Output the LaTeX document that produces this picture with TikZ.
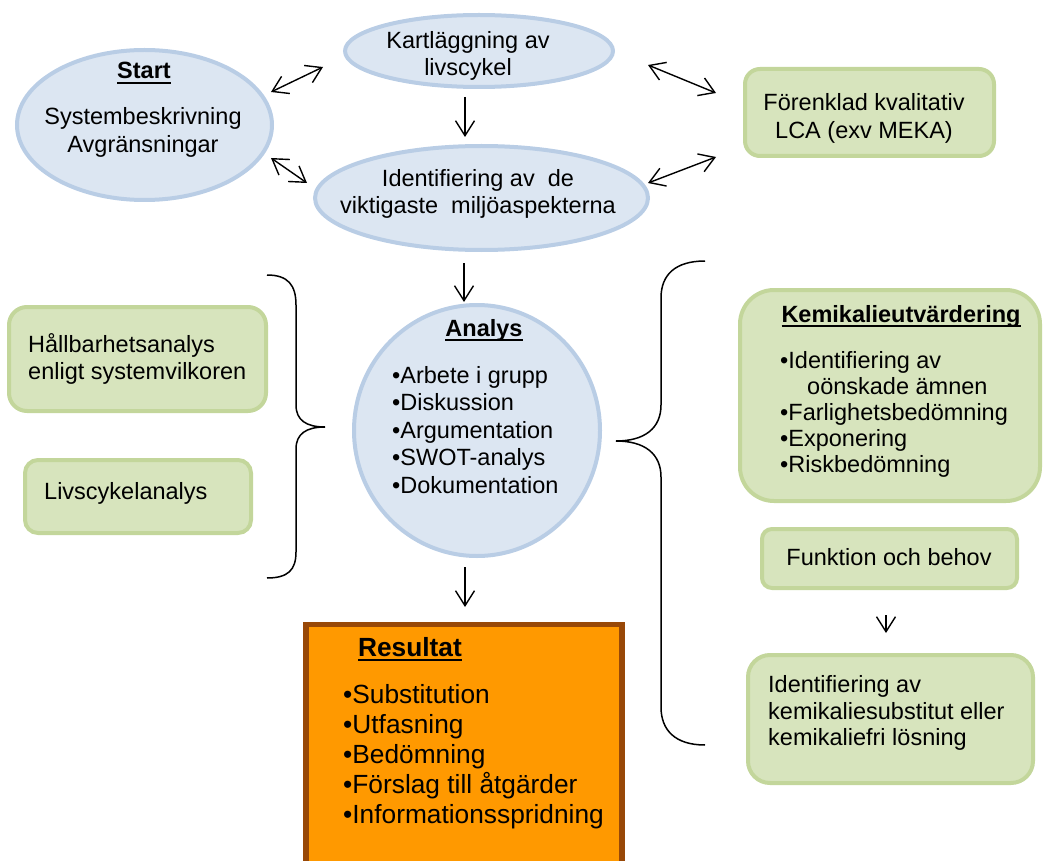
\documentclass[tikz,border=0pt]{standalone}
\usepackage{fontspec}
\setmainfont{Liberation Sans}
\usetikzlibrary{shapes.geometric,arrows.meta}
\definecolor{bfill}{HTML}{DCE6F2}
\definecolor{bline}{HTML}{B9CDE5}
\definecolor{gfill}{HTML}{D7E4BD}
\definecolor{gline}{HTML}{C3D69B}
\definecolor{ofill}{HTML}{FF9900}
\definecolor{oline}{HTML}{984807}
\newcommand\ulbox[1]{\setbox0\hbox{#1}\leavevmode\rlap{\rule[-5pt]{\wd0}{1.9pt}}\box0}
\tikzset{
  blueell/.style={ellipse, draw=bline, fill=bfill, line width=4pt, inner sep=0pt},
  greenbox/.style={rectangle, draw=gline, fill=gfill, line width=4pt, inner sep=0pt},
  txt/.style={inner sep=0pt, font=\fontsize{23.5}{27.5}\selectfont},
  conn/.style={line width=1.4pt, >={Straight Barb[length=15pt,width=19pt]}},
  bracepath/.style={line width=1.5pt},
}
\begin{document}
\begin{tikzpicture}[x=1pt,y=-1pt]
\useasboundingbox (0,0) rectangle (1044,861);
\clip (0,0) rectangle (1044,861);

% shapes
\node[blueell, minimum width=255pt, minimum height=150pt] (start) at (144.5,125) {};
\node[blueell, minimum width=268pt, minimum height=72pt] (kart) at (479,51) {};
\node[blueell, minimum width=333pt, minimum height=104pt] (ident) at (481.5,198) {};
\node[greenbox, rounded corners=15pt, minimum width=249pt, minimum height=87pt] (foren) at (869.5,112.5) {};
\node[greenbox, rounded corners=18pt, minimum width=257pt, minimum height=104pt] (hall) at (137.5,359) {};
\node[greenbox, rounded corners=13pt, minimum width=226pt, minimum height=73pt] (livs) at (138,496.5) {};
\node[blueell, minimum width=246pt, minimum height=251pt] (analys) at (477,430.5) {};
\node[greenbox, rounded corners=34pt, minimum width=300pt, minimum height=211pt] (kemi) at (890,395.5) {};
\node[greenbox, rounded corners=10pt, minimum width=255pt, minimum height=59pt] (funk) at (889.5,558.5) {};
\node[greenbox, rounded corners=22pt, minimum width=285pt, minimum height=128pt] (ident2) at (890.5,719) {};
\node[rectangle, draw=oline, fill=ofill, line width=5.5pt, inner sep=0pt, minimum width=316pt, minimum height=275pt] (result) at (464,762) {};

% texts
\node[txt] (startT) at (144,73) {\ulbox{\textbf{Start}}};
\node[txt, align=center] (startB) at (143,132.5) {Systembeskrivning\\Avgränsningar};
\node[txt, align=center] (kartT) at (468,56) {Kartläggning av\\livscykel};
\node[txt, align=center] (identT) at (478,194) {Identifiering av\ \ de\\viktigaste\ \ miljöaspekterna};
\node[txt, align=center] (forenT) at (864,118.5) {Förenklad kvalitativ\\LCA (exv MEKA)};
\node[txt, align=left, anchor=west] (hallT) at (28,359) {Hållbarhetsanalys\\enligt systemvilkoren};
\node[txt, anchor=west] (livsT) at (44,493) {Livscykelanalys};
\node[txt] (analysT) at (484,330) {\ulbox{\textbf{Analys}}};
\node[txt, align=left, anchor=west] (analysB) at (392,430) {•Arbete i grupp\\•Diskussion\\•Argumentation\\•SWOT-analys\\•Dokumentation};
\node[txt] (kemiT) at (901,316) {\ulbox{\textbf{Kemikalieutvärdering}}};
\node[txt, font=\fontsize{23.5}{26}\selectfont, align=left, anchor=west] (kemiB) at (780,414) {•Identifiering av\\\hspace*{27pt}oönskade ämnen\\•Farlighetsbedömning\\•Exponering\\•Riskbedömning};
\node[txt] (funkT) at (889,557) {Funktion och behov};
\node[txt, font=\fontsize{23.5}{26.5}\selectfont, align=left, anchor=west] (ident2T) at (768,713) {Identifiering av\\kemikaliesubstitut eller\\kemikaliefri lösning};
\node[txt, font=\fontsize{26.3}{30}\selectfont] (resultT) at (410,649) {\ulbox{\textbf{Resultat}}};
\node[txt, font=\fontsize{26.3}{30}\selectfont, align=left, anchor=west] (resultB) at (343,757) {•Substitution\\•Utfasning\\•Bedömning\\•Förslag till åtgärder\\•Informationsspridning};

% connector end points
\coordinate (a1s) at (271,92);  \coordinate (a1k) at (323,67);
\coordinate (a2s) at (271,158); \coordinate (a2i) at (307,183);
\coordinate (a3k) at (648,65);  \coordinate (a3f) at (716,93);
\coordinate (a4f) at (716,157); \coordinate (a4i) at (648,183);
\coordinate (v1a) at (465,97);  \coordinate (v1b) at (465,137);
\coordinate (v2a) at (464,263); \coordinate (v2b) at (464,302);
\coordinate (v3a) at (465,567); \coordinate (v3b) at (465,607);
\coordinate (v4a) at (886,615); \coordinate (v4b) at (886,633);

\draw[conn,<->] (a1s) -- (a1k);
\draw[conn,<->] (a2s) -- (a2i);
\draw[conn,<->] (a3k) -- (a3f);
\draw[conn,<->] (a4f) -- (a4i);
\draw[conn,->] (v1a) -- (v1b);
\draw[conn,->] (v2a) -- (v2b);
\draw[conn,->] (v3a) -- (v3b);
\draw[conn,->] (v4a) -- (v4b);

% braces
\draw[bracepath] (267,275) .. controls (288,275) and (296,285) .. (296,305) -- (296,405)
  .. controls (296,420) and (306,427) .. (325,427)
  .. controls (306,427) and (296,434) .. (296,449) -- (296,552)
  .. controls (296,570) and (288,578) .. (267,578);
\draw[bracepath] (705,261) .. controls (675,261) and (661,275) .. (661,298) -- (661,405)
  .. controls (661,428) and (645,441) .. (616,441)
  .. controls (645,441) and (661,454) .. (661,477) -- (661,707)
  .. controls (661,730) and (675,745) .. (705,745);
\end{tikzpicture}
\end{document}
